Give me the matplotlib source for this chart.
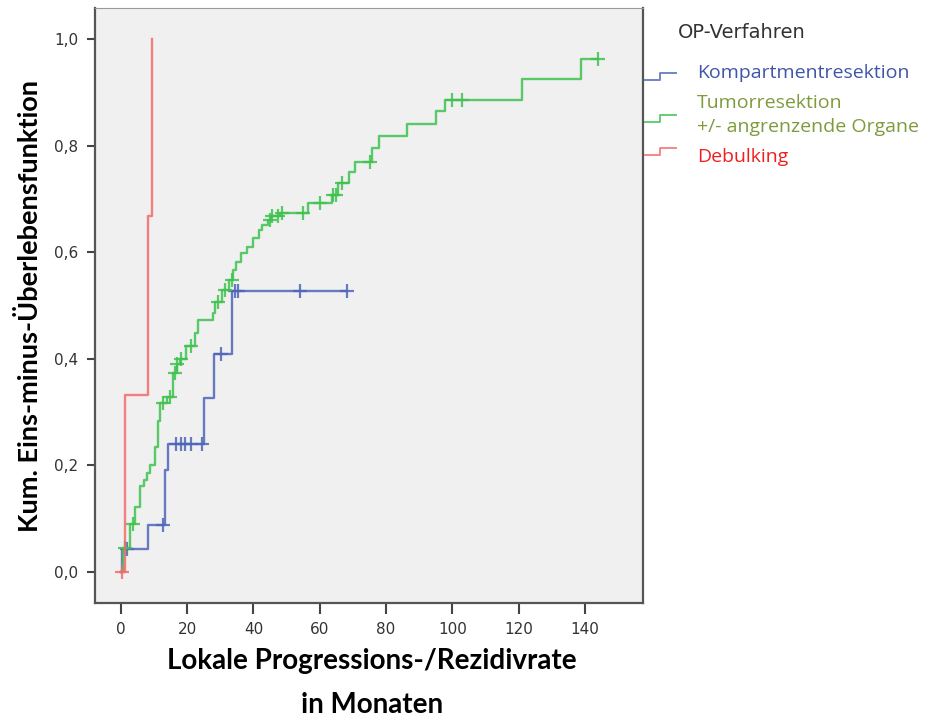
import numpy as np
import matplotlib.pyplot as plt
from matplotlib.lines import Line2D

# step curves: event times (months) and cumulative incidence after each step
komp_t = [0, 0.3, 8.2, 13.3, 14.3, 25.1, 28.2, 33.4, 68.1]
komp_s = [0, 0.043, 0.088, 0.191, 0.241, 0.326, 0.409, 0.528, 0.528]
komp_cens = [2.0, 12.8, 16.5, 18.1, 19.3, 21.1, 24.5, 30.2, 34.4, 35.2, 54.0, 68.1]

tumor_t = [0, 0.5, 2.7, 4.2, 5.7, 7.0, 8.0, 8.7, 10.3, 11.3, 11.8, 14.0, 15.8, 16.8,
           17.8, 19.8, 22.3, 23.3, 27.9, 28.4, 30.4, 32.6, 33.7, 34.7, 36.1, 37.9,
           39.9, 41.7, 42.5, 44.5, 45.3, 48.0, 56.5, 63.6, 65.6, 68.9, 70.6, 75.9,
           77.9, 86.2, 95.0, 97.8, 120.9, 138.7, 143.8]
tumor_s = [0, 0.045, 0.091, 0.122, 0.161, 0.172, 0.185, 0.200, 0.235, 0.284, 0.317,
           0.328, 0.373, 0.390, 0.400, 0.424, 0.448, 0.473, 0.485, 0.507, 0.529,
           0.548, 0.567, 0.582, 0.598, 0.610, 0.626, 0.642, 0.651, 0.660, 0.667,
           0.673, 0.693, 0.707, 0.729, 0.751, 0.770, 0.795, 0.818, 0.841, 0.864,
           0.886, 0.924, 0.962, 0.962]
tumor_cens = [1.2, 3.7, 12.8, 14.8, 16.3, 16.8, 18.1, 21.3, 29.4, 31.4, 33.4, 45.0,
              45.5, 47.5, 48.5, 55.0, 60.0, 64.0, 65.0, 66.6, 75.1, 99.8, 103.0, 143.8]

debulk_t = [0, 1.3, 8.2, 9.3]
debulk_s = [0, 0.333, 0.667, 1.0]
debulk_cens = [0.3]

groups = ["Kompartmentresektion", "Tumorresektion\n+/- angrenzende Organe", "Debulking"]
line_colors = ["#4f66b8", "#3ec24e", "#f26b6b"]
text_colors = ["#3f56a8", "#7f9a3c", "#f01f1f"]

yticks = [0.0, 0.2, 0.4, 0.6, 0.8, 1.0]
xticks = [0, 20, 40, 60, 80, 100, 120, 140]


def value_at(t, s, c):
    idx = np.searchsorted(t, c, side="right") - 1
    return np.asarray(s)[idx]


fig = plt.figure(figsize=(9.28, 7.22), dpi=100)
ax = fig.add_axes([95 / 928, 1 - 603 / 722, (643 - 95) / 928, (603 - 8) / 722])
ax.set_facecolor("#f0f0f0")

curves = [(komp_t, komp_s, komp_cens), (tumor_t, tumor_s, tumor_cens),
          (debulk_t, debulk_s, debulk_cens)]
for (t, s, c), col in zip(curves, line_colors):
    ax.step(t, s, where="post", color=col, lw=1.7, alpha=0.85)
    ax.plot(c, value_at(t, s, c), ls="none", marker="+", ms=10, mew=1.6,
            color=col, alpha=0.85)

ax.set_xlim(-7.8, 157.5)
ax.set_ylim(-0.058, 1.058)
ax.set_xticks(xticks)
ax.set_yticks(yticks)
ax.set_yticklabels([f"{v:.1f}".replace(".", ",") for v in yticks])
ax.tick_params(axis="x", length=8, width=1.5, color="#444444", labelsize=11,
               labelcolor="#333333", pad=6)
ax.tick_params(axis="y", length=6, width=1.5, color="#444444", labelsize=11,
               labelcolor="#333333", pad=6)
for side in ["left", "bottom", "right"]:
    ax.spines[side].set_color("#555555")
    ax.spines[side].set_linewidth(1.6)
ax.spines["top"].set_color("#999999")

ax.set_ylabel("Kum. Eins-minus-Überlebensfunktion", fontsize=19.5, fontweight="bold",
              family="Lato")
ax.yaxis.set_label_coords(-53 / 548, 0.5)
fig.text(372 / 928, 1 - 661 / 722, "Lokale Progressions-/Rezidivrate",
         ha="center", va="center", fontsize=20, fontweight="bold", family="Lato")
fig.text(372 / 928, 1 - 705 / 722, "in Monaten",
         ha="center", va="center", fontsize=20, fontweight="bold", family="Lato")

# legend drawn beside the plot
fig.text(678 / 928, 1 - 33 / 722, "OP-Verfahren", fontsize=14, color="#333333",
         va="center", family="DejaVu Sans")
icon_y = [76, 118, 151]
text_y = [73, 115, 157]
for y, lc in zip(icon_y, line_colors):
    xs = np.array([645, 660, 660, 676]) / 928
    ys = 1 - np.array([y + 4, y + 4, y - 3, y - 3]) / 722
    fig.add_artist(Line2D(xs, ys, color=lc, lw=1.4, alpha=0.8))
for ty, name, tc in zip(text_y, groups, text_colors):
    fig.text(697 / 928, 1 - ty / 722, name, fontsize=14, color=tc, va="center",
             family="Open Sans", linespacing=1.45)

fig.savefig("out.png", dpi=100, facecolor="white")
